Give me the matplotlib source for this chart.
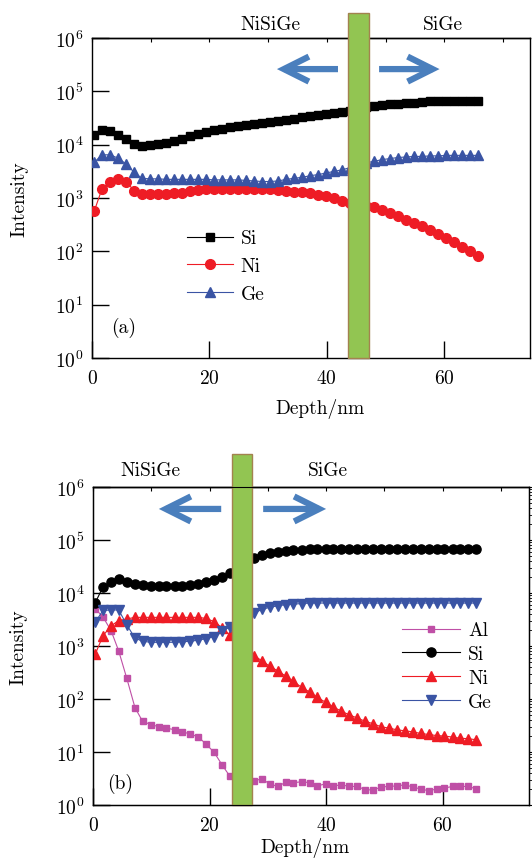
import matplotlib
matplotlib.use("Agg")
import matplotlib.pyplot as plt
from matplotlib.patches import Rectangle
from matplotlib.ticker import NullLocator, LogLocator, NullFormatter

plt.rcParams['font.family'] = 'serif'
plt.rcParams['font.serif'] = ['cmr10']
plt.rcParams['mathtext.fontset'] = 'cm'
plt.rcParams['axes.formatter.use_mathtext'] = True
plt.rcParams['axes.unicode_minus'] = False

# ---------------- data ----------------
depth = [0.4, 1.7, 3.1, 4.4, 5.8, 7.2, 8.5, 9.9, 11.3, 12.6, 14.0, 15.3, 16.7,
         18.1, 19.4, 20.8, 22.2, 23.5, 24.9, 26.2, 27.6, 29.0, 30.3, 31.7, 33.1,
         34.4, 35.8, 37.2, 38.5, 39.9, 41.2, 42.6, 44.0, 45.3, 46.7, 48.1, 49.4,
         50.8, 52.1, 53.5, 54.9, 56.2, 57.6, 59.0, 60.3, 61.7, 63.0, 64.4, 65.8]

# panel (a)
si_a = [15500, 19100, 17800, 15500, 12900, 10500, 9550, 9770, 10200, 10700,
        11500, 12900, 14500, 16200, 17400, 18600, 20000, 21400, 22400, 23400,
        24500, 25700, 26900, 28200, 29500, 30900, 32400, 33900, 35500, 37200,
        38900, 40700, 42700, 45700, 50100, 52500, 55000, 57500, 58900, 60300,
        61700, 63100, 64600, 64600, 64800, 65000, 65000, 64800, 64600]
ni_a = [575, 1480, 2040, 2240, 2000, 1380, 1200, 1175, 1175, 1200,
        1230, 1260, 1350, 1410, 1480, 1480, 1480, 1480, 1480, 1480,
        1450, 1450, 1450, 1410, 1380, 1320, 1290, 1230, 1150, 1070,
        1000, 891, 813, 741, 708, 676, 589, 525, 457, 389,
        339, 295, 251, 209, 178, 148, 120, 102, 83]
ge_a = [4680, 6460, 6460, 5620, 4370, 3020, 2340, 2290, 2290, 2240,
        2240, 2240, 2240, 2240, 2240, 2190, 2190, 2190, 2190, 2140,
        2090, 2040, 2040, 2090, 2240, 2340, 2450, 2630, 2750, 2950,
        3160, 3390, 3720, 4170, 4570, 4900, 5250, 5500, 5750, 5890,
        6030, 6030, 6170, 6170, 6310, 6310, 6310, 6310, 6310]

# panel (b)
al_b = [5010, 3550, 1950, 813, 245, 69, 38, 33, 30, 28.2,
        26.3, 24.0, 21.9, 19.1, 14.1, 9.8, 5.6, 3.47, 2.95, 2.82,
        2.88, 3.09, 2.51, 2.24, 2.69, 2.63, 2.75, 2.63, 2.29, 2.51,
        2.29, 2.40, 2.24, 2.24, 1.95, 1.91, 2.19, 2.24, 2.29, 2.40,
        2.19, 2.00, 1.86, 2.00, 2.09, 2.24, 2.24, 2.24, 2.00]
si_b = [6610, 12900, 16200, 18200, 15800, 14800, 14100, 13800, 13800, 13800,
        13800, 13800, 14100, 14800, 15800, 17400, 20000, 24000, 29500, 37200,
        45700, 51300, 56200, 60300, 63100, 64600, 66100, 67600, 67600, 67600,
        67600, 67600, 67600, 67600, 67600, 67600, 67600, 67600, 67600, 67600,
        67600, 67600, 67600, 67600, 67600, 67600, 67600, 67600, 67600]
ni_b = [708, 1550, 2400, 3020, 3240, 3470, 3470, 3470, 3470, 3470,
        3470, 3470, 3470, 3470, 3310, 2880, 2190, 1585, 1120, 832,
        661, 525, 417, 339, 269, 214, 166, 135, 107, 87,
        71, 59, 50, 44, 38, 34, 30, 28.2, 26.3, 25.1,
        24.0, 22.4, 21.4, 20.4, 20.0, 19.1, 18.2, 17.8, 17.0]
ge_b = [2820, 4680, 4790, 4790, 2510, 1410, 1230, 1175, 1175, 1175,
        1175, 1200, 1230, 1290, 1380, 1510, 1900, 2290, 2750, 3310,
        4170, 4900, 5370, 5750, 6030, 6170, 6310, 6460, 6460, 6460,
        6460, 6460, 6460, 6460, 6460, 6460, 6460, 6460, 6460, 6460,
        6460, 6460, 6460, 6460, 6460, 6460, 6460, 6460, 6460]

xticks = [0, 20, 40, 60]
top_ticks = [0, 10, 20, 30, 40, 50, 60, 70]
yticks = [1, 10, 100, 1e3, 1e4, 1e5, 1e6]

C_SI = 'black'
C_NI = '#ee1c25'
C_GE = '#3a54a4'
C_AL = '#bf4fa6'
C_ARROW = '#4a7fbd'
C_BAR = '#92c552'
C_BAREDGE = '#a3824f'

FS = 14

fig = plt.figure(figsize=(5.32, 8.62), dpi=100)
ax1 = fig.add_axes([0.1729, 0.5835, 0.8233, 0.3712])
ax2 = fig.add_axes([0.1748, 0.06497, 0.8205, 0.3689])


def style_axes(ax, xmax):
    ax.set_yscale('log')
    ax.set_xlim(0, xmax)
    ax.set_ylim(1, 1e6)
    ax.set_xticks(xticks)
    ax.set_yticks(yticks)
    ax.xaxis.set_minor_locator(NullLocator())
    ax.yaxis.set_minor_locator(NullLocator())
    ax.tick_params(axis='x', which='major', direction='in', length=12, width=1,
                   top=False, pad=8, labelsize=FS)
    ax.tick_params(axis='y', which='major', direction='in', length=12, width=1,
                   right=False, pad=6, labelsize=FS)
    for s in ax.spines.values():
        s.set_linewidth(1.0)
    sec = ax.secondary_xaxis('top')
    sec.set_xticks(top_ticks)
    sec.tick_params(direction='in', length=3, width=0.8, labeltop=False)
    sec.spines['top'].set_linewidth(1.0)
    ax.set_xlabel('Depth/nm', fontsize=FS)
    ax.set_ylabel('Intensity', fontsize=FS)


def add_bar_arrows(ax, x0, x1, ytop, yarrow, left_arrow, right_arrow):
    tr = ax.get_xaxis_transform()
    ax.add_patch(Rectangle((x0, 0), x1 - x0, ytop, transform=tr, clip_on=False,
                           facecolor=C_BAR, edgecolor=C_BAREDGE, linewidth=1.0,
                           zorder=5))
    for tail, tip in (left_arrow, right_arrow):
        ax.annotate('', xy=(tip, yarrow), xytext=(tail, yarrow), xycoords=tr,
                    textcoords=tr, annotation_clip=False,
                    arrowprops=dict(arrowstyle='->,head_length=0.9,head_width=0.45',
                                    lw=4.5, color=C_ARROW, mutation_scale=20,
                                    shrinkA=0, shrinkB=0, joinstyle='miter',
                                    capstyle='butt'),
                    zorder=6)


# ---------------- panel (a) ----------------
lw = 0.8
ax1.plot(depth, si_a, '-s', color=C_SI, ms=6.3, lw=lw, label='Si', zorder=3)
ax1.plot(depth, ni_a, '-o', color=C_NI, ms=7.0, lw=lw, label='Ni', zorder=3)
ax1.plot(depth, ge_a, '-^', color=C_GE, ms=7.2, lw=lw, label='Ge', zorder=3)
style_axes(ax1, 74.6)
ax1.xaxis.set_label_coords(0.52, -0.125)
ax1.yaxis.set_label_coords(-0.146, 0.5)
add_bar_arrows(ax1, 43.6, 47.2, 1.078, 0.903, (41.9, 31.5), (48.9, 59.2))
ax1.text(30.3, 1.044, 'NiSiGe', transform=ax1.get_xaxis_transform(),
         ha='center', va='center', fontsize=FS)
ax1.text(59.7, 1.044, 'SiGe', transform=ax1.get_xaxis_transform(),
         ha='center', va='center', fontsize=FS)
ax1.text(0.043, 0.097, '(a)', transform=ax1.transAxes, ha='left', va='center',
         fontsize=FS)
ax1.legend(loc='center left', bbox_to_anchor=(0.217, 0.2875), frameon=False,
           fontsize=FS, handlelength=2.36, handletextpad=0.4, labelspacing=0.5,
           borderpad=0, borderaxespad=0)

# ---------------- panel (b) ----------------
ax2.plot(depth, al_b, '-s', color=C_AL, ms=5.0, lw=lw, label='Al', zorder=3)
ax2.plot(depth, si_b, '-o', color=C_SI, ms=6.6, lw=lw, label='Si', zorder=3)
ax2.plot(depth, ni_b, '-^', color=C_NI, ms=7.4, lw=lw, label='Ni', zorder=3)
ax2.plot(depth, ge_b, '-v', color=C_GE, ms=7.4, lw=lw, label='Ge', zorder=3)
style_axes(ax2, 74.9)
ax2.xaxis.set_label_coords(0.486, -0.10)
ax2.yaxis.set_label_coords(-0.149, 0.5)
add_bar_arrows(ax2, 23.8, 27.3, 1.104, 0.931, (22.0, 11.3), (29.2, 40.0))
ax2.text(9.8, 1.053, 'NiSiGe', transform=ax2.get_xaxis_transform(),
         ha='center', va='center', fontsize=FS)
ax2.text(40.3, 1.053, 'SiGe', transform=ax2.get_xaxis_transform(),
         ha='center', va='center', fontsize=FS)
ax2.text(0.032, 0.069, '(b)', transform=ax2.transAxes, ha='left', va='center',
         fontsize=FS)
ax2.legend(loc='center left', bbox_to_anchor=(0.708, 0.437), frameon=False,
           fontsize=FS, handlelength=3.0, handletextpad=0.4, labelspacing=0.3,
           borderpad=0, borderaxespad=0)

# right-side log ticks on panel (b)
axr = ax2.twinx()
axr.set_yscale('log')
axr.set_ylim(1, 1e6)
axr.yaxis.set_major_locator(LogLocator(base=10))
axr.yaxis.set_minor_locator(LogLocator(base=10, subs=range(2, 10)))
axr.yaxis.set_minor_formatter(NullFormatter())
axr.tick_params(axis='y', which='major', direction='out', length=4, width=0.8,
                labelright=False)
axr.tick_params(axis='y', which='minor', direction='out', length=2.5, width=0.6,
                labelright=False)

fig.savefig('out.png', dpi=100)
